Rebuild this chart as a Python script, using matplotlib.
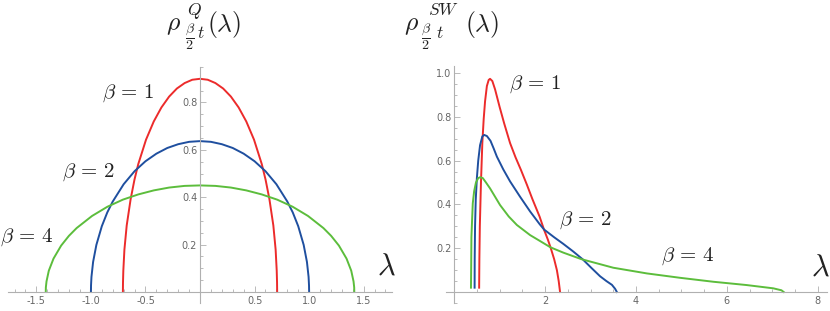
import matplotlib.pyplot as plt
from matplotlib.ticker import MultipleLocator

plt.rcParams['mathtext.fontset'] = 'cm'

# left panel: densities rho^Q
q_x_b1 = [-0.707, -0.706, -0.703, -0.693, -0.672, -0.636, -0.601, -0.566, -0.495, -0.424, -0.354, -0.283, -0.212,
          -0.141, -0.071, 0.0, 0.071, 0.141, 0.212, 0.283, 0.354, 0.424, 0.495, 0.566, 0.601, 0.636, 0.672,
          0.693, 0.703, 0.706, 0.707]
q_y_b1 = [0.0, 0.040, 0.090, 0.179, 0.281, 0.392, 0.474, 0.540, 0.643, 0.720, 0.779, 0.825, 0.859,
          0.882, 0.896, 0.900, 0.896, 0.882, 0.859, 0.825, 0.779, 0.720, 0.643, 0.540, 0.474, 0.392, 0.281,
          0.179, 0.090, 0.040, 0.0]
q_x_b2 = [-1.0, -0.999, -0.995, -0.98, -0.95, -0.9, -0.85, -0.8, -0.7, -0.6, -0.5, -0.4, -0.3,
          -0.2, -0.1, 0.0, 0.1, 0.2, 0.3, 0.4, 0.5, 0.6, 0.7, 0.8, 0.85, 0.9, 0.95,
          0.98, 0.995, 0.999, 1.0]
q_y_b2 = [0.0, 0.028, 0.064, 0.127, 0.199, 0.278, 0.336, 0.382, 0.455, 0.510, 0.552, 0.584, 0.608,
          0.624, 0.634, 0.637, 0.634, 0.624, 0.608, 0.584, 0.552, 0.510, 0.455, 0.382, 0.336, 0.278, 0.199,
          0.127, 0.064, 0.028, 0.0]
q_x_b4 = [-1.414, -1.413, -1.407, -1.386, -1.343, -1.273, -1.202, -1.131, -0.990, -0.849, -0.707, -0.566, -0.424,
          -0.283, -0.141, 0.0, 0.141, 0.283, 0.424, 0.566, 0.707, 0.849, 0.990, 1.131, 1.202, 1.273, 1.343,
          1.386, 1.407, 1.413, 1.414]
q_y_b4 = [0.0, 0.020, 0.045, 0.090, 0.141, 0.196, 0.237, 0.270, 0.321, 0.360, 0.390, 0.412, 0.429,
          0.441, 0.448, 0.450, 0.448, 0.441, 0.429, 0.412, 0.390, 0.360, 0.321, 0.270, 0.237, 0.196, 0.141,
          0.090, 0.045, 0.020, 0.0]

# right panel: densities rho^SW
sw_x_b1 = [0.55, 0.555, 0.565, 0.59, 0.62, 0.65, 0.68, 0.72, 0.76, 0.79, 0.84, 0.90, 1.00, 1.10, 1.23, 1.35,
           1.47, 1.60, 1.72, 1.88, 1.98, 2.06, 2.12, 2.20, 2.26, 2.30, 2.33]
sw_y_b1 = [0.02, 0.15, 0.30, 0.50, 0.68, 0.79, 0.87, 0.94, 0.968, 0.973, 0.963, 0.925, 0.845, 0.77, 0.68, 0.615,
           0.557, 0.49, 0.425, 0.344, 0.283, 0.24, 0.204, 0.15, 0.10, 0.05, 0.0]
sw_x_b2 = [0.45, 0.452, 0.46, 0.475, 0.50, 0.53, 0.57, 0.62, 0.66, 0.72, 0.80, 0.87, 0.94, 1.08, 1.23, 1.45, 1.67,
           1.88, 1.98, 2.20, 2.40, 2.62, 2.83, 3.02, 3.21, 3.35, 3.47, 3.54, 3.58]
sw_y_b2 = [0.02, 0.15, 0.30, 0.42, 0.52, 0.60, 0.67, 0.71, 0.717, 0.712, 0.69, 0.655, 0.618, 0.56, 0.505, 0.435,
           0.368, 0.31, 0.285, 0.25, 0.22, 0.185, 0.149, 0.11, 0.072, 0.05, 0.033, 0.015, 0.0]
sw_x_b4 = [0.37, 0.375, 0.38, 0.395, 0.41, 0.44, 0.48, 0.53, 0.57, 0.63, 0.70, 0.79, 0.90, 1.01, 1.20, 1.38,
           1.67, 1.88, 2.12, 2.40, 2.80, 3.50, 4.24, 4.97, 5.70, 6.43, 7.02, 7.20, 7.25]
sw_y_b4 = [0.02, 0.12, 0.25, 0.33, 0.405, 0.46, 0.50, 0.52, 0.524, 0.52, 0.50, 0.473, 0.435, 0.397, 0.345, 0.306,
           0.26, 0.234, 0.204, 0.18, 0.15, 0.111, 0.085, 0.065, 0.047, 0.032, 0.017, 0.008, 0.0]

q_xticks = [-1.5, -1.0, -0.5, 0.5, 1.0, 1.5]
q_xlabels = ["-1.5", "-1.0", "-0.5", "0.5", "1.0", "1.5"]
q_yticks = [0.2, 0.4, 0.6, 0.8]
q_ylabels = ["0.2", "0.4", "0.6", "0.8"]
sw_xticks = [2, 4, 6, 8]
sw_xlabels = ["2", "4", "6", "8"]
sw_yticks = [0.2, 0.4, 0.6, 0.8, 1.0]
sw_ylabels = ["0.2", "0.4", "0.6", "0.8", "1.0"]

beta_labels = [r'$\beta\,=\,1$', r'$\beta\,=\,2$', r'$\beta\,=\,4$']
red = '#ec2b2b'
blue = '#1f4f9f'
green = '#5cbd3c'
ink = '#222222'

fig = plt.figure(figsize=(8.3, 3.11), dpi=100)
axl = fig.add_axes([0.00964, 0.0267, 0.4627, 0.758])
axr = fig.add_axes([0.5373, 0.0257, 0.459, 0.761])


def style(ax, xminor, yminor):
    for s in ['top', 'right']:
        ax.spines[s].set_visible(False)
    ax.spines['left'].set_position(('data', 0))
    ax.spines['bottom'].set_position(('data', 0))
    for s in ['left', 'bottom']:
        ax.spines[s].set_color('#b0b0b0')
        ax.spines[s].set_linewidth(0.8)
    ax.xaxis.set_minor_locator(MultipleLocator(xminor))
    ax.yaxis.set_minor_locator(MultipleLocator(yminor))
    ax.tick_params(which='both', direction='in', color='#b0b0b0', width=0.6,
                   labelsize=7, labelcolor='#666666')
    ax.tick_params(which='major', length=4)
    ax.tick_params(which='minor', length=2.5)
    ax.tick_params(axis='y', pad=2)
    ax.tick_params(axis='x', pad=3)
    ax.patch.set_visible(False)


axl.plot(q_x_b1, q_y_b1, color=red, lw=1.4)
axl.plot(q_x_b2, q_y_b2, color=blue, lw=1.4)
axl.plot(q_x_b4, q_y_b4, color=green, lw=1.4)
axl.set_xlim(-1.76, 1.76)
axl.set_ylim(-0.045, 0.95)
axl.set_xticks(q_xticks, q_xlabels)
axl.set_yticks(q_yticks, q_ylabels)
style(axl, 0.1, 0.05)

axr.plot(sw_x_b1, sw_y_b1, color=red, lw=1.4)
axr.plot(sw_x_b2, sw_y_b2, color=blue, lw=1.4)
axr.plot(sw_x_b4, sw_y_b4, color=green, lw=1.4)
axr.set_xlim(-0.18, 8.2)
axr.set_ylim(-0.05, 1.03)
axr.set_xticks(sw_xticks, sw_xlabels)
axr.set_yticks(sw_yticks, sw_ylabels)
style(axr, 0.5, 0.05)

# annotations (pixel positions from the reference)
W, H = 830, 311


def px(x, y):
    return x / W, 1 - y / H


lab = dict(ha='center', va='center', fontsize=15, color=ink)
fig.text(*px(128, 93), beta_labels[0], **lab)
fig.text(*px(88, 172), beta_labels[1], **lab)
fig.text(*px(27, 237), beta_labels[2], **lab)
fig.text(*px(535, 84), beta_labels[0], **lab)
fig.text(*px(585, 220), beta_labels[1], **lab)
fig.text(*px(688, 256), beta_labels[2], **lab)

fig.text(*px(386, 266), r'$\lambda$', ha='center', va='center', fontsize=22, color=ink)
fig.text(*px(820, 267), r'$\lambda$', ha='center', va='center', fontsize=22, color=ink)


# axis titles rho^{sup}_{beta/2 t}(lambda), built from pieces
def title(x_rho, x_sup, x_frac, x_t, x_par, sup):
    fig.text(*px(x_rho, 30), r'$\rho$', ha='left', va='baseline', fontsize=18.5, color=ink)
    fig.text(*px(x_sup, 15), '$' + sup + '$', ha='left', va='baseline', fontsize=12.5, color=ink)
    fig.text(*px(x_frac, 37), r'$\dfrac{\beta}{2}$', ha='left', va='center', fontsize=10, color=ink)
    fig.text(*px(x_t, 38), r'$t$', ha='left', va='baseline', fontsize=12.5, color=ink)
    fig.text(*px(x_par, 31), r'$(\lambda)$', ha='left', va='baseline', fontsize=18.5, color=ink)


title(166, 187, 185, 197, 207, 'Q')
title(404, 428, 421, 436, 465, 'SW')

fig.savefig('out.png', dpi=100)
